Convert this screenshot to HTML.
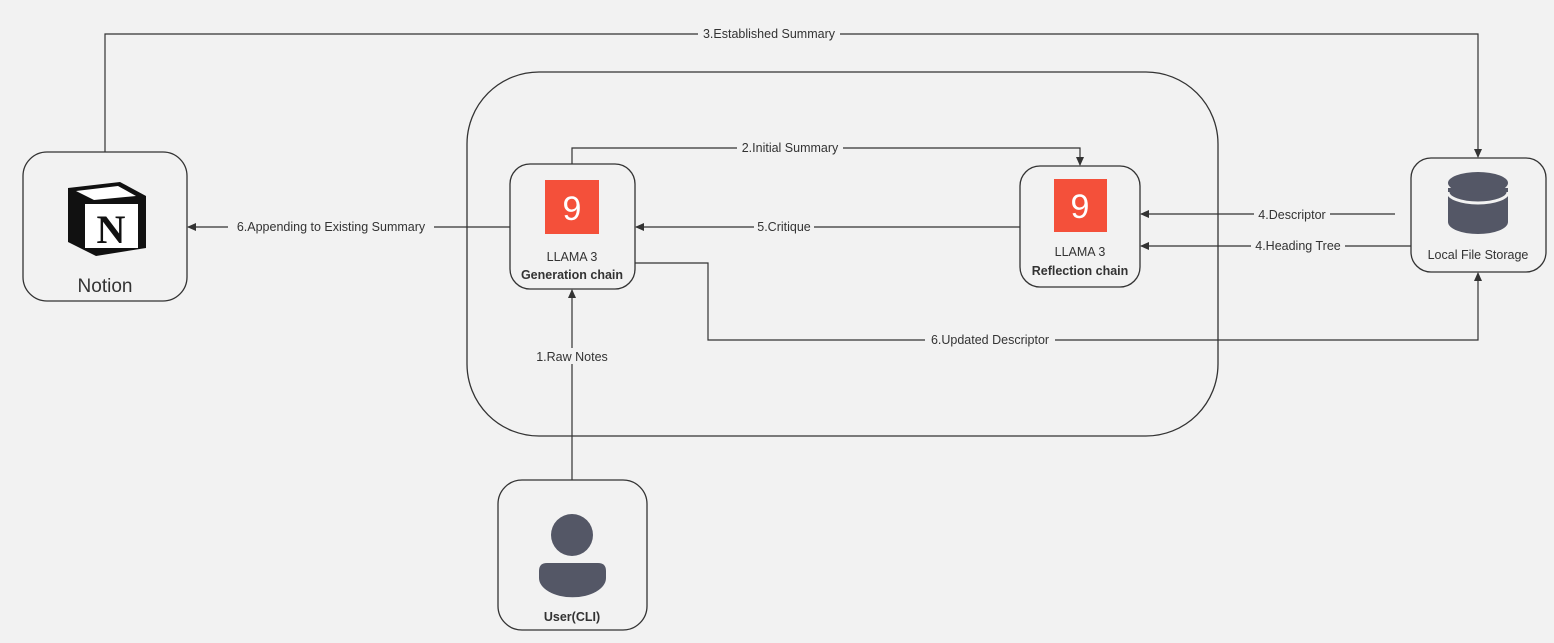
<!DOCTYPE html>
<html><head><meta charset="utf-8"><style>
html,body{margin:0;padding:0;background:#f2f2f2;}
svg{display:block;}
text{font-family:"Liberation Sans","DejaVu Sans",sans-serif;fill:#333;}
</style></head><body>
<svg width="1554" height="643" viewBox="0 0 1554 643" xmlns="http://www.w3.org/2000/svg">
<defs>
<marker id="a" markerWidth="10" markerHeight="10" refX="8" refY="5" orient="auto" markerUnits="userSpaceOnUse">
<path d="M0,1 L9,5 L0,9 Z" fill="#333"/></marker>
</defs>
<rect width="1554" height="643" fill="#f2f2f2"/>
<g fill="none" stroke="#333" stroke-width="1.3">
<rect x="467" y="72" width="751" height="364" rx="72"/>
<rect x="23" y="152" width="164" height="149" rx="24"/>
<rect x="510" y="164" width="125" height="125" rx="20"/>
<rect x="1020" y="166" width="120" height="121" rx="20"/>
<rect x="1411" y="158" width="135" height="114" rx="20"/>
<rect x="498" y="480" width="149" height="150" rx="24"/>
</g>
<g fill="none" stroke="#333" stroke-width="1.2">
<path d="M105,152 V34 H1478 V157" marker-end="url(#a)"/>
<path d="M572,164 V148 H1080 V165" marker-end="url(#a)"/>
<path d="M1020,227 H636" marker-end="url(#a)"/>
<path d="M510,227 H188" marker-end="url(#a)"/>
<path d="M1395,214 H1141" marker-end="url(#a)"/>
<path d="M1411,246 H1141" marker-end="url(#a)"/>
<path d="M635,263 H708 V340 H1478 V273" marker-end="url(#a)"/>
<path d="M572,480 V290" marker-end="url(#a)"/>
</g>
<g font-size="12.5" text-anchor="middle">
<rect x="698" y="26" width="142" height="16" fill="#f2f2f2"/><text x="769" y="38">3.Established Summary</text>
<rect x="737" y="140" width="106" height="16" fill="#f2f2f2"/><text x="790" y="152">2.Initial Summary</text>
<rect x="754" y="219" width="60" height="16" fill="#f2f2f2"/><text x="784" y="231">5.Critique</text>
<rect x="228" y="219" width="206" height="16" fill="#f2f2f2"/><text x="331" y="231">6.Appending to Existing Summary</text>
<rect x="1254" y="206" width="76" height="16" fill="#f2f2f2"/><text x="1292" y="219">4.Descriptor</text>
<rect x="1251" y="238" width="94" height="16" fill="#f2f2f2"/><text x="1298" y="250">4.Heading Tree</text>
<rect x="925" y="332" width="130" height="16" fill="#f2f2f2"/><text x="990" y="344">6.Updated Descriptor</text>
<rect x="533" y="348" width="78" height="16" fill="#f2f2f2"/><text x="572" y="361">1.Raw Notes</text>
</g>
<rect x="545" y="180" width="54" height="54" fill="#f4503a"/>
<text x="572" y="220" font-size="34" text-anchor="middle" style="fill:#fff">9</text>
<rect x="1054" y="179" width="53" height="53" fill="#f4503a"/>
<text x="1080" y="218" font-size="34" text-anchor="middle" style="fill:#fff">9</text>
<text x="572" y="261" font-size="12.5" text-anchor="middle">LLAMA 3</text>
<text x="572" y="279" font-size="12.5" font-weight="bold" text-anchor="middle">Generation chain</text>
<text x="1080" y="256" font-size="12.5" text-anchor="middle">LLAMA 3</text>
<text x="1080" y="275" font-size="12.5" font-weight="bold" text-anchor="middle">Reflection chain</text>
<path d="M68,188 L120,182 L146,196 L146,248 L96,256 L68,242 Z" fill="#111"/>
<path d="M76,191 L118,186 L136,196 L94,200 Z" fill="#fff"/>
<rect x="85" y="204" width="53" height="44" fill="#fff"/>
<text x="111" y="243" font-size="40" font-weight="bold" text-anchor="middle" style="font-family:'Liberation Serif',serif;fill:#111">N</text>
<text x="105" y="292" font-size="19" text-anchor="middle">Notion</text>
<g fill="#545766">
<path d="M1448,188 V222 A30,12 0 0 0 1508,222 V188 Z"/>
<ellipse cx="1478" cy="183" rx="30" ry="11"/>
</g>
<path d="M1448,192 A30,11 0 0 0 1508,192" fill="none" stroke="#f2f2f2" stroke-width="3"/>
<text x="1478" y="259" font-size="12.5" text-anchor="middle">Local File Storage</text>
<circle cx="572" cy="535" r="21" fill="#545766"/>
<path d="M547,563 H598 Q606,563 606,571 V578 A33,19 0 0 1 539,578 V571 Q539,563 547,563 Z" fill="#545766"/>
<text x="572" y="621" font-size="12.5" font-weight="bold" text-anchor="middle">User(CLI)</text>
</svg>
</body></html>
